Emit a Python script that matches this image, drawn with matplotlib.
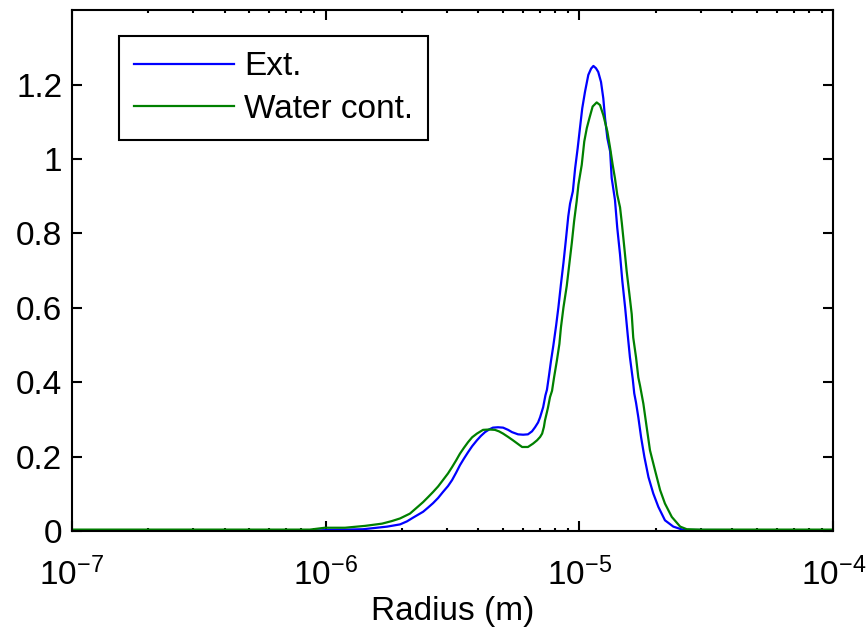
import numpy as np
import matplotlib
matplotlib.use("Agg")
import matplotlib.pyplot as plt
from matplotlib.ticker import LogLocator, FixedLocator, FuncFormatter

plt.rcParams['font.family'] = ['Liberation Sans', 'DejaVu Sans']
plt.rcParams['mathtext.fontset'] = 'custom'
plt.rcParams['mathtext.rm'] = 'Liberation Sans'
plt.rcParams['mathtext.it'] = 'Liberation Sans:italic'
plt.rcParams['axes.unicode_minus'] = False

# log10 of radius (m) and size distribution values
ext_logr = [-7.000, -6.022, -5.983, -5.853, -5.758, -5.707, -5.680, -5.656, -5.636,
            -5.616, -5.597, -5.577, -5.557, -5.538, -5.518, -5.502, -5.486, -5.471,
            -5.455, -5.439, -5.423, -5.404, -5.388, -5.372, -5.356, -5.341, -5.321,
            -5.301, -5.281, -5.266, -5.242, -5.222, -5.203, -5.187, -5.175, -5.163,
            -5.155, -5.143, -5.134, -5.128, -5.120, -5.112, -5.103, -5.092, -5.083,
            -5.073, -5.063, -5.054, -5.044, -5.037, -5.026, -5.017, -5.007, -4.998,
            -4.989, -4.978, -4.965, -4.954, -4.945, -4.935, -4.926, -4.915, -4.906,
            -4.899, -4.890, -4.879, -4.873, -4.860, -4.851, -4.840, -4.831, -4.820,
            -4.810, -4.801, -4.790, -4.784, -4.777, -4.768, -4.757, -4.744, -4.728,
            -4.709, -4.689, -4.663, -4.630, -4.590, -4.000]
ext_val = [0.002, 0.002, 0.003, 0.005, 0.012, 0.018, 0.026, 0.036, 0.044,
           0.052, 0.063, 0.075, 0.089, 0.105, 0.121, 0.137, 0.157, 0.177,
           0.195, 0.212, 0.228, 0.244, 0.256, 0.266, 0.273, 0.278, 0.279,
           0.278, 0.272, 0.266, 0.260, 0.259, 0.260, 0.268, 0.279, 0.292,
           0.306, 0.333, 0.365, 0.380, 0.418, 0.458, 0.498, 0.552, 0.601,
           0.663, 0.721, 0.779, 0.846, 0.880, 0.913, 0.975, 1.029, 1.083,
           1.136, 1.181, 1.226, 1.243, 1.250, 1.244, 1.234, 1.207, 1.163,
           1.109, 1.056, 1.020, 0.949, 0.890, 0.815, 0.743, 0.672, 0.601,
           0.529, 0.467, 0.409, 0.370, 0.345, 0.306, 0.252, 0.199, 0.145,
           0.101, 0.065, 0.029, 0.012, 0.003, 0.002]

wat_logr = [-7.000, -6.062, -6.003, -5.924, -5.845, -5.778, -5.739, -5.707, -5.695,
            -5.668, -5.636, -5.616, -5.597, -5.577, -5.557, -5.538, -5.518, -5.502,
            -5.486, -5.471, -5.455, -5.439, -5.423, -5.404, -5.380, -5.356, -5.333,
            -5.317, -5.301, -5.281, -5.262, -5.242, -5.226, -5.203, -5.183, -5.167,
            -5.155, -5.147, -5.140, -5.136, -5.128, -5.124, -5.116, -5.108, -5.100,
            -5.089, -5.079, -5.073, -5.063, -5.050, -5.040, -5.030, -5.021, -5.011,
            -5.004, -4.991, -4.981, -4.971, -4.961, -4.948, -4.932, -4.919, -4.906,
            -4.890, -4.879, -4.869, -4.860, -4.851, -4.840, -4.833, -4.823, -4.814,
            -4.803, -4.794, -4.788, -4.777, -4.768, -4.761, -4.748, -4.735, -4.722,
            -4.702, -4.682, -4.663, -4.636, -4.603, -4.577, -4.525, -4.000]
wat_val = [0.004, 0.004, 0.009, 0.009, 0.014, 0.020, 0.027, 0.034, 0.038,
           0.047, 0.066, 0.078, 0.091, 0.105, 0.120, 0.137, 0.155, 0.172,
           0.190, 0.208, 0.224, 0.239, 0.252, 0.262, 0.272, 0.273, 0.272,
           0.268, 0.262, 0.253, 0.244, 0.234, 0.226, 0.226, 0.235, 0.244,
           0.253, 0.262, 0.280, 0.297, 0.320, 0.332, 0.360, 0.377, 0.413,
           0.458, 0.503, 0.547, 0.601, 0.659, 0.717, 0.775, 0.833, 0.886,
           0.931, 0.984, 1.047, 1.083, 1.109, 1.141, 1.152, 1.145, 1.118,
           1.074, 1.029, 0.984, 0.948, 0.904, 0.870, 0.828, 0.761, 0.699,
           0.636, 0.583, 0.520, 0.467, 0.413, 0.390, 0.342, 0.279, 0.217,
           0.163, 0.110, 0.074, 0.038, 0.012, 0.005, 0.004, 0.004]

yticks = [0, 0.2, 0.4, 0.6, 0.8, 1.0, 1.2]

fs = 24

fig = plt.figure(figsize=(8.67, 6.33), dpi=100)
ax = fig.add_axes([0.083, 0.161, 0.878, 0.823])

ax.plot(10 ** np.array(ext_logr), ext_val, color=(0, 0, 1), lw=1.6, label='Ext.')
ax.plot(10 ** np.array(wat_logr), wat_val, color=(0, 0.5, 0), lw=1.6, label='Water cont.')

ax.set_xscale('log')
ax.set_xlim(1e-7, 1e-4)
ax.set_ylim(0, 1.4)
ax.xaxis.set_major_locator(LogLocator(base=10, numticks=10))
ax.xaxis.set_minor_locator(LogLocator(base=10, subs=np.arange(2, 10), numticks=20))
ax.yaxis.set_major_locator(FixedLocator(yticks))
ax.yaxis.set_major_formatter(FuncFormatter(lambda v, p: '%g' % v))

for s in ax.spines.values():
    s.set_linewidth(1.5)
ax.tick_params(which='both', direction='in', top=True, right=True)
ax.tick_params(which='major', length=7, width=1.5, labelsize=fs)
ax.tick_params(axis='x', which='major', pad=19)
ax.tick_params(axis='y', which='major', pad=7)
ax.tick_params(which='minor', length=2.5, width=1.5)

ax.set_xlabel('Radius (m)', fontsize=fs, labelpad=3)

leg = ax.legend(loc='upper left', bbox_to_anchor=(0.062, 0.950), borderaxespad=0,
                fontsize=fs, handlelength=3.0, handletextpad=0.3,
                borderpad=0.45, labelspacing=0.35, fancybox=False, framealpha=1)
leg.get_frame().set_edgecolor('black')
leg.get_frame().set_linewidth(1.5)

fig.savefig('out.png', dpi=100)
